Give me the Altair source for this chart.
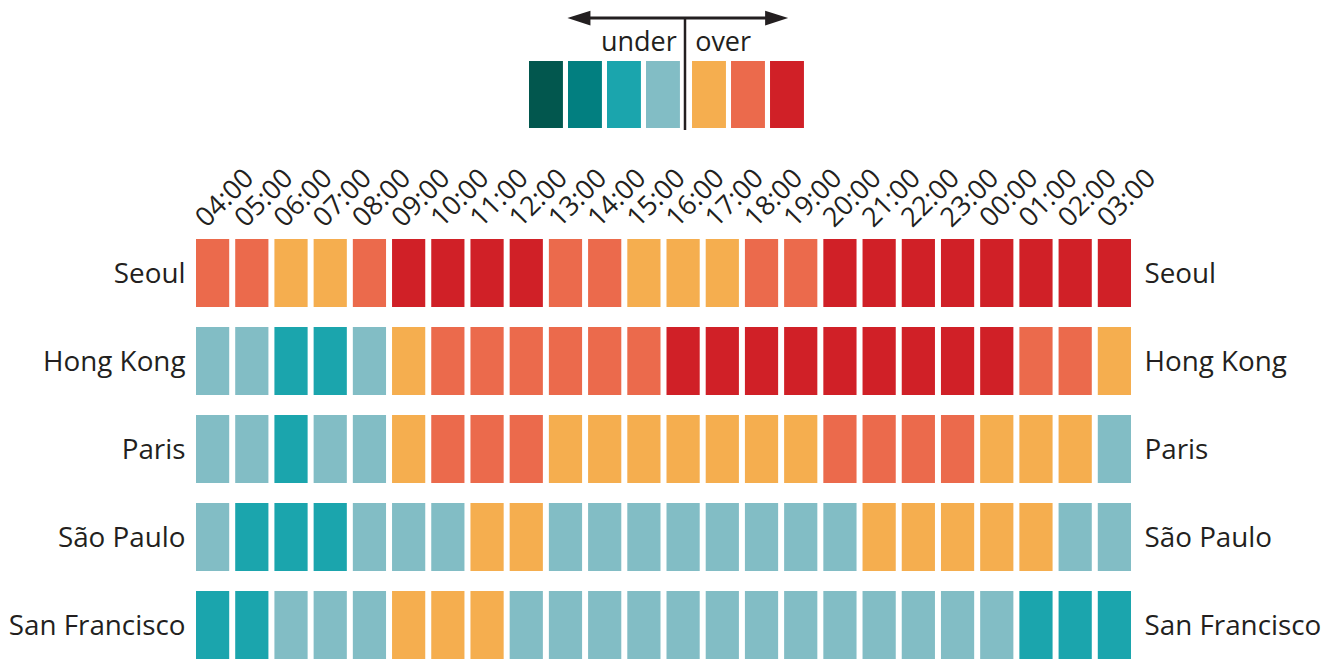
import altair as alt
import pandas as pd

hours = ["04:00", "05:00", "06:00", "07:00", "08:00", "09:00", "10:00", "11:00",
         "12:00", "13:00", "14:00", "15:00", "16:00", "17:00", "18:00", "19:00",
         "20:00", "21:00", "22:00", "23:00", "00:00", "01:00", "02:00", "03:00"]
cities = ["Seoul", "Hong Kong", "Paris", "São Paulo", "San Francisco"]

# level: 0..3 = under (dark -> light), 4..6 = over (light -> dark)
seoul = [5, 5, 4, 4, 5, 6, 6, 6, 6, 5, 5, 4, 4, 4, 5, 5, 6, 6, 6, 6, 6, 6, 6, 6]
hong_kong = [3, 3, 2, 2, 3, 4, 5, 5, 5, 5, 5, 5, 6, 6, 6, 6, 6, 6, 6, 6, 6, 5, 5, 4]
paris = [3, 3, 2, 3, 3, 4, 5, 5, 5, 4, 4, 4, 4, 4, 4, 4, 5, 5, 5, 5, 4, 4, 4, 3]
sao_paulo = [3, 2, 2, 2, 3, 3, 3, 4, 4, 3, 3, 3, 3, 3, 3, 3, 3, 4, 4, 4, 4, 4, 3, 3]
san_francisco = [2, 2, 3, 3, 3, 4, 4, 4, 3, 3, 3, 3, 3, 3, 3, 3, 3, 3, 3, 3, 3, 2, 2, 2]

levels = [0, 1, 2, 3, 4, 5, 6]
level_colors = ["#02574e", "#027f80", "#1ba5ad", "#82bdc5", "#f5ae4f", "#eb6a4c", "#d02027"]
legend_words = ["under", "over"]

TEXT = "#231f20"
FONT = "Open Sans"

rows = []
for city, vals in zip(cities, [seoul, hong_kong, paris, sao_paulo, san_francisco]):
    for h, v in zip(hours, vals):
        rows.append({"city": city, "hour": h, "level": v})
df = pd.DataFrame(rows)

color = alt.Color("level:O", scale=alt.Scale(domain=levels, range=level_colors), legend=None)

xs = alt.Scale(domain=hours, paddingInner=0.153, paddingOuter=0)
ys = alt.Scale(domain=cities, paddingInner=0.227, paddingOuter=0)

top_axis = alt.Axis(orient="top", title=None, domain=False, ticks=False,
                    labelAngle=315, labelAlign="left", labelBaseline="alphabetic",
                    labelPadding=11, labelOffset=-6, labelFontSize=27, labelFont=FONT,
                    labelColor=TEXT, labelOverlap=False, labelBound=False)

heat = alt.Chart(df).mark_rect().encode(
    x=alt.X("hour:N", scale=xs, sort=hours, axis=top_axis),
    y=alt.Y("city:N", scale=ys, sort=cities,
            axis=alt.Axis(orient="left", title=None, domain=False, ticks=False,
                          labelPadding=11, labelOffset=2, labelFontSize=27.8, labelFont=FONT,
                          labelColor=TEXT, labelLimit=400)),
    color=color,
)
heat_right = alt.Chart(df).mark_rect(opacity=0).encode(
    x=alt.X("hour:N", scale=xs, sort=hours, axis=top_axis),
    y=alt.Y("city:N", scale=ys, sort=cities,
            axis=alt.Axis(orient="right", title=None, domain=False, ticks=False,
                          labelPadding=13, labelOffset=2, labelFontSize=27.8, labelFont=FONT,
                          labelColor=TEXT, labelLimit=400)),
)
heat_layer = alt.layer(heat, heat_right).resolve_axis(y="independent")

# ---- legend (own scales, placed above the grid) ----
leg = pd.DataFrame({"level": levels})
lx = alt.Scale(domain=[0, 10], range=[333, 723])
ly = alt.Scale(domain=[0, 1], range=[-111, -178])

swatches = alt.Chart(leg).mark_rect().transform_calculate(
    x0="datum.level + (datum.level >= 4 ? 0.18 : 0)",
    x1="datum.level + (datum.level >= 4 ? 0.18 : 0) + 0.87",
    y0="0", y1="1",
).encode(
    x=alt.X("x0:Q", scale=lx, axis=None), x2="x1:Q",
    y=alt.Y("y0:Q", scale=ly, axis=None), y2="y1:Q",
    color=color,
)

vline_df = pd.DataFrame({"x": [4.0], "y": [-0.03], "y2": [1.64]})
vline = alt.Chart(vline_df).mark_rule(color=TEXT, strokeWidth=2.5).encode(
    x=alt.X("x:Q", scale=lx, axis=None),
    y=alt.Y("y:Q", scale=ly, axis=None), y2="y2:Q",
)
hline_df = pd.DataFrame({"x": [1.3], "x2": [6.4], "y": [1.64]})
hline = alt.Chart(hline_df).mark_rule(color=TEXT, strokeWidth=3).encode(
    x=alt.X("x:Q", scale=lx, axis=None), x2="x2:Q",
    y=alt.Y("y:Q", scale=ly, axis=None),
)
heads_df = pd.DataFrame({"x": [1.28, 6.35], "y": [1.64, 1.64],
                         "dir": ["left", "right"]})
heads = alt.Chart(heads_df).mark_point(filled=True, opacity=1, color=TEXT, size=529, strokeWidth=0).encode(
    x=alt.X("x:Q", scale=lx, axis=None),
    y=alt.Y("y:Q", scale=ly, axis=None),
    shape=alt.Shape("dir:N", scale=alt.Scale(
        domain=["left", "right"],
        range=["M -1 0 L 1 -0.65 L 1 0.65 Z", "M 1 0 L -1 -0.65 L -1 0.65 Z"]), legend=None),
)
words_df = pd.DataFrame({"x": [3.79, 4.26], "y": [1.15, 1.15], "t": legend_words})
word_under = alt.Chart(words_df.iloc[[0]]).mark_text(
    align="right", baseline="alphabetic", fontSize=27, font=FONT, color=TEXT).encode(
    x=alt.X("x:Q", scale=lx, axis=None), y=alt.Y("y:Q", scale=ly, axis=None), text="t:N")
word_over = alt.Chart(words_df.iloc[[1]]).mark_text(
    align="left", baseline="alphabetic", fontSize=27, font=FONT, color=TEXT).encode(
    x=alt.X("x:Q", scale=lx, axis=None), y=alt.Y("y:Q", scale=ly, axis=None), text="t:N")

legend_layer = alt.layer(swatches, vline, hline, heads, word_under, word_over)

chart = alt.layer(heat_layer, legend_layer).resolve_scale(
    x="independent", y="independent"
).properties(
    width=935, height=420,
    autosize=alt.AutoSizeParams(type="none"),
    padding={"left": 188, "top": 231, "right": 198, "bottom": 0},
).configure_view(strokeOpacity=0)

chart.save("out.html", embed_options={"renderer": "svg", "actions": False})
